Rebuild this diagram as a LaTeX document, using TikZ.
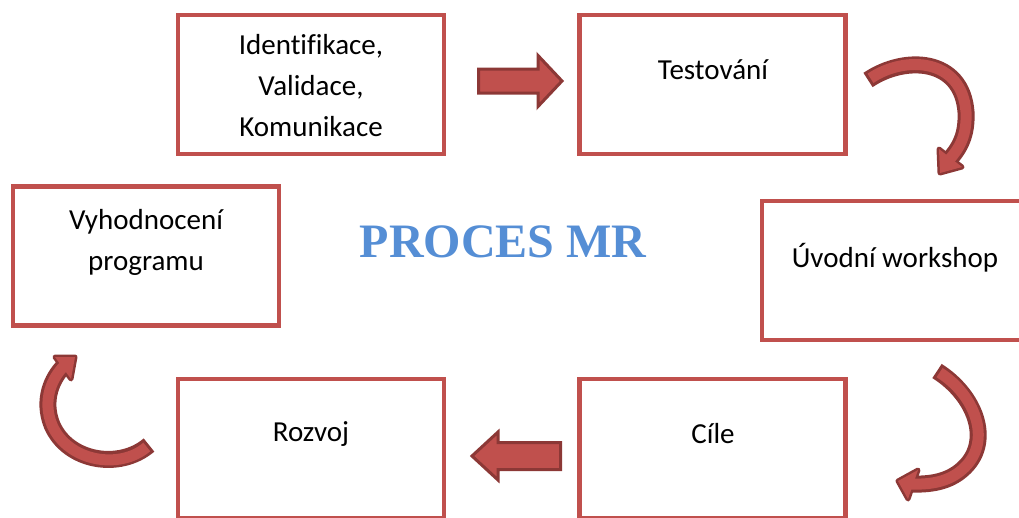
\documentclass[tikz,border=0pt]{standalone}
\usepackage{fontspec}
\setmainfont{Carlito}[Ligatures=NoCommon]
\newfontfamily\titlefont{Liberation Serif}
\usetikzlibrary{positioning}

\definecolor{boxred}{RGB}{192,80,77}
\definecolor{arrowfill}{RGB}{192,80,77}
\definecolor{arrowline}{RGB}{140,56,54}
\definecolor{titleblue}{RGB}{85,142,213}

\tikzset{
  stepbox/.style={draw=boxred, line width=4.5, minimum width=266, minimum height=139, inner sep=0},
  steptext/.style={align=center, font=\fontsize{29}{41}\selectfont},
  blockarrow/.style={draw=arrowline, fill=arrowfill, line width=3, line join=miter},
  shaftout/.style={draw=arrowline, line width=17},
  shaftin/.style={draw=arrowfill, line width=11, shorten <=3},
  headout/.style={draw=arrowline, fill=arrowline, line width=5, line join=round},
  headin/.style={fill=arrowfill}
}

\begin{document}
\begin{tikzpicture}[x=1pt, y=-1pt]
  \clip (0,0) rectangle (1019,517);
  % boxes
  \node[stepbox] (b1) at (311,84.5) {};
  \node[stepbox] (b2) at (712.5,84.5) {};
  \node[stepbox] (b3) at (895,270.5) {};
  \node[stepbox] (b4) at (146,256) {};
  \node[stepbox] (b5) at (311,448.5) {};
  \node[stepbox] (b6) at (712.5,448.5) {};
  % texts
  \node[steptext] (t1) at (311,86) {Identifikace,\\Validace,\\Komunikace};
  \node[steptext] (t2) at (713,70) {Testování};
  \node[steptext] (t3) at (895,258) {Úvodní workshop};
  \node[steptext] (t4) at (146,242) {Vyhodnocení\\programu};
  \node[steptext] (t5) at (311,434) {Rozvoj};
  \node[steptext] (t6) at (713,434) {Cíle};
  \node[text=titleblue, font=\titlefont\bfseries\fontsize{48}{52}\selectfont] (title) at (503,242) {PROCES MR};

  % straight arrows
  \coordinate (ar) at (520,81);
  \coordinate (al) at (516,456);
  \draw[blockarrow, shift={(ar)}] (-41.5,-12) -- (18,-12) -- (18,-25.5) -- (42,0)
    -- (18,25.5) -- (18,12) -- (-41.5,12) -- cycle;
  \draw[blockarrow, shift={(al)}] (44.5,-13.5) -- (-18,-13.5) -- (-18,-24) -- (-44,0)
    -- (-18,24) -- (-18,13.5) -- (44.5,13.5) -- cycle;

  % curved arrow, top right
  \draw[shaftout] (868,80) .. controls (905,55) and (962,58) .. (966,112)
    .. controls (967,135) and (960,148) .. (948,161);
  \draw[headout] (939,149) -- (940,173) -- (962,167) -- cycle;
  \draw[shaftin] (868,80) .. controls (905,55) and (962,58) .. (966,112)
    .. controls (967,135) and (960,148) .. (948,161);
  \fill[headin] (939,149) -- (940,173) -- (962,167) -- cycle;

  % curved arrow, bottom right
  \draw[shaftout] (937,371) .. controls (975,395) and (992,440) .. (965,467)
    .. controls (952,480) and (935,485) .. (910,484);
  \draw[headout] (918,470) -- (898,481) -- (908,499) -- cycle;
  \draw[shaftin] (937,371) .. controls (975,395) and (992,440) .. (965,467)
    .. controls (952,480) and (935,485) .. (910,484);
  \fill[headin] (918,470) -- (898,481) -- (908,499) -- cycle;

  % curved arrow, bottom left
  \draw[shaftout] (149,445) .. controls (120,470) and (68,462) .. (52,425)
    .. controls (42,400) and (52,378) .. (64,366);
  \draw[headout] (55,357) -- (75,357) -- (71,379) -- cycle;
  \draw[shaftin] (149,445) .. controls (120,470) and (68,462) .. (52,425)
    .. controls (42,400) and (52,378) .. (64,366);
  \fill[headin] (55,357) -- (75,357) -- (71,379) -- cycle;
\end{tikzpicture}
\end{document}
